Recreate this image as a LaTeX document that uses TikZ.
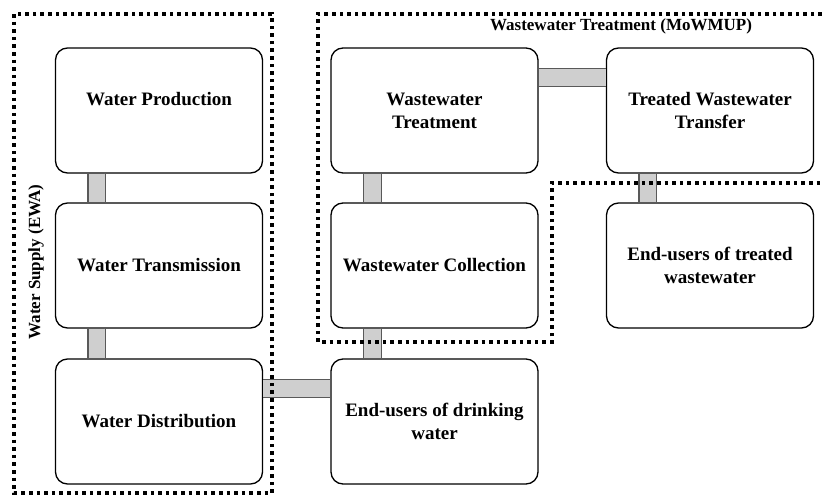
\documentclass[tikz,border=0pt]{standalone}
\usepackage{fontspec}
\setmainfont{Liberation Serif}
\usepackage{tikz}
\tikzset{stage/.style={draw, line width=1.3pt, rounded corners=12pt, fill=white, minimum width=207pt, minimum height=125pt, align=center, font=\fontsize{19}{23}\selectfont\bfseries}}
\tikzset{pipe/.style={draw=black!65, line width=1.2pt, double=black!19, double distance=16.5pt}}
\tikzset{group/.style={line width=3.6pt, dash pattern=on 3.6pt off 4pt}}
\tikzset{grouplabel/.style={font=\fontsize{17}{20}\selectfont\bfseries}}

\begin{document}
\begin{tikzpicture}[x=1pt, y=-1pt]
            \useasboundingbox (0, 0) rectangle (822, 498);
            % water supply chain
            \node[stage, text depth=24pt] (wp) at (159, 110.5) {Water Production};
            \node[stage] (wt) at (159, 265.5) {Water Transmission};
            \node[stage] (wd) at (159, 421.5) {Water Distribution};
            % wastewater chain
            \node[stage] (wwt) at (434.5, 110.5) {Wastewater\\Treatment};
            \node[stage] (wwc) at (434.5, 265.5) {Wastewater Collection};
            \node[stage] (eud) at (434.5, 421.5) {End-users of drinking\\water};
            \node[stage] (twt) at (710, 110.5) {Treated Wastewater\\Transfer};
            \node[stage] (eut) at (710, 265.5) {End-users of treated\\wastewater};
            % links
            \foreach \a/\b in {wp/wt, wt/wd, wwt/wwc, wwc/eud, twt/eut} {
                \draw[pipe] ([xshift=42pt]\a.south west) -- ([xshift=42pt]\b.north west);
            }
            \draw[pipe] ([yshift=-30pt]wwt.north east) -- ([yshift=-30pt]twt.north west);
            \draw[pipe] ([yshift=-30pt]wd.north east) -- ([yshift=-30pt]eud.north west);
            % groups
            \draw[group] (14, 14) rectangle (272, 493);
            \draw[group] (822, 14) -- (318, 14) -- (318, 342) -- (552, 342) -- (552, 183) -- (822, 183);
            \node[grouplabel, rotate=90] (supply) at (36, 262) {Water Supply (EWA)};
            \node[grouplabel] (treatment) at (621, 26) {Wastewater Treatment (MoWMUP)};
        \end{tikzpicture}
\end{document}
